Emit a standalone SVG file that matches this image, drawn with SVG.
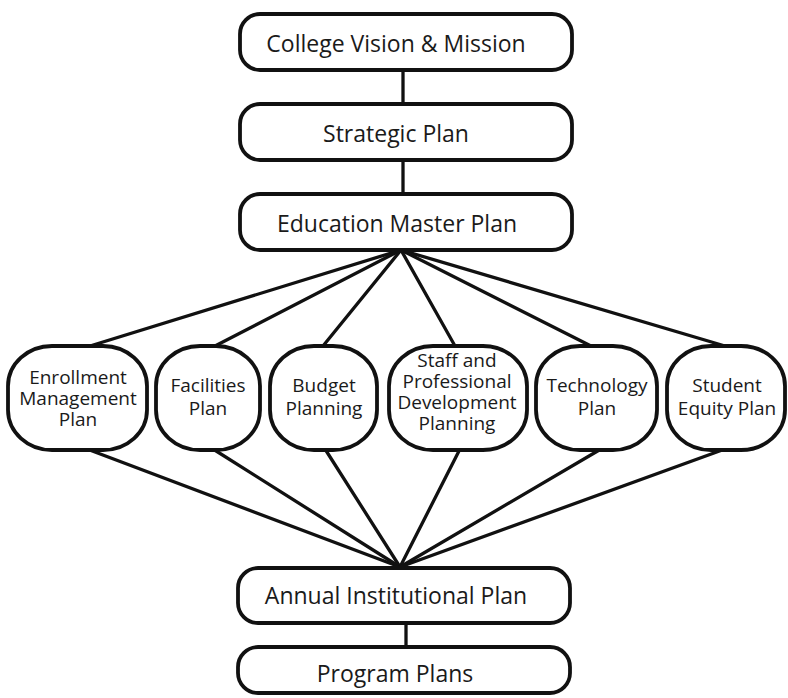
<svg xmlns="http://www.w3.org/2000/svg" width="788" height="698" viewBox="0 0 788 698">
  <style>
    .box { fill: #ffffff; stroke: #111111; stroke-width: 3.8; }
    .plan { rx: 44px; ry: 40px; }
    .wire { stroke: #111111; stroke-width: 3.3; fill: none; stroke-linecap: round; }
    .lbl { font-family: "Open Sans", "Noto Sans", sans-serif; fill: #1a1a1a; text-anchor: middle; }
    .big { font-size: 23px; }
    .mid { font-size: 19px; }
  </style>
  <rect width="788" height="698" fill="#ffffff"/>

  <g id="connectors">
    <line class="wire" x1="403" y1="70" x2="403" y2="103"/>
    <line class="wire" x1="403" y1="160" x2="403" y2="193"/>
    <!-- fan out from the education master plan -->
    <line class="wire" x1="401" y1="250" x2="90" y2="346"/>
    <line class="wire" x1="401" y1="250" x2="215" y2="346"/>
    <line class="wire" x1="401" y1="250" x2="323" y2="346"/>
    <line class="wire" x1="401" y1="250" x2="455" y2="346"/>
    <line class="wire" x1="401" y1="250" x2="591" y2="346"/>
    <line class="wire" x1="401" y1="250" x2="725" y2="346"/>
    <!-- fan in to the annual institutional plan -->
    <line class="wire" x1="87" y1="449" x2="400" y2="567"/>
    <line class="wire" x1="213" y1="449" x2="400" y2="567"/>
    <line class="wire" x1="325" y1="449" x2="400" y2="567"/>
    <line class="wire" x1="460" y1="449" x2="400" y2="567"/>
    <line class="wire" x1="601" y1="449" x2="400" y2="567"/>
    <line class="wire" x1="725" y1="449" x2="400" y2="567"/>
    <line class="wire" x1="406" y1="623" x2="406" y2="647"/>
  </g>

  <g id="vision">
    <rect class="box" x="240" y="14" width="332" height="56" rx="20"/>
    <text class="lbl big" x="396" y="52">College Vision &amp; Mission</text>
  </g>
  <g id="strategic">
    <rect class="box" x="240" y="104" width="332" height="56" rx="20"/>
    <text class="lbl big" x="396" y="142">Strategic Plan</text>
  </g>
  <g id="education">
    <rect class="box" x="240" y="194" width="332" height="56" rx="20"/>
    <text class="lbl big" x="397" y="232">Education Master Plan</text>
  </g>

  <g id="enrollment">
    <rect class="box plan" x="8" y="346" width="139" height="104"/>
    <text class="lbl mid" x="78" y="384">Enrollment</text>
    <text class="lbl mid" x="78" y="405">Management</text>
    <text class="lbl mid" x="78" y="426">Plan</text>
  </g>
  <g id="facilities">
    <rect class="box plan" x="156" y="346" width="104" height="104"/>
    <text class="lbl mid" x="208" y="392">Facilities</text>
    <text class="lbl mid" x="208" y="415">Plan</text>
  </g>
  <g id="budget">
    <rect class="box plan" x="270" y="346" width="107" height="104"/>
    <text class="lbl mid" x="324" y="392">Budget</text>
    <text class="lbl mid" x="324" y="415">Planning</text>
  </g>
  <g id="staff">
    <rect class="box plan" x="389" y="346" width="138" height="104"/>
    <text class="lbl mid" x="457" y="367">Staff and</text>
    <text class="lbl mid" x="457" y="388">Professional</text>
    <text class="lbl mid" x="457" y="409">Development</text>
    <text class="lbl mid" x="457" y="430">Planning</text>
  </g>
  <g id="technology">
    <rect class="box plan" x="536" y="346" width="121" height="104"/>
    <text class="lbl mid" x="597" y="392">Technology</text>
    <text class="lbl mid" x="597" y="415">Plan</text>
  </g>
  <g id="equity">
    <rect class="box plan" x="667" y="346" width="118" height="104"/>
    <text class="lbl mid" x="727" y="392">Student</text>
    <text class="lbl mid" x="727" y="415">Equity Plan</text>
  </g>

  <g id="annual">
    <rect class="box" x="238" y="568" width="332" height="55" rx="20"/>
    <text class="lbl big" x="396" y="604">Annual Institutional Plan</text>
  </g>
  <g id="program">
    <rect class="box" x="238" y="647" width="332" height="46" rx="20"/>
    <text class="lbl big" x="395" y="682">Program Plans</text>
  </g>
</svg>
